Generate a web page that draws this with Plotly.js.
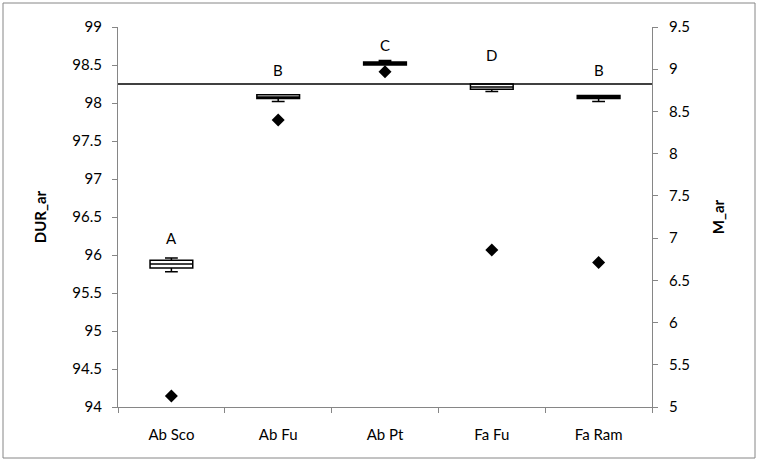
<!DOCTYPE html>
<html>
<head>
<meta charset="utf-8">
<script src="https://cdn.plot.ly/plotly-3.0.1.min.js"></script>
<style>
  html, body { margin: 0; padding: 0; background: #fff; }
  #chart { width: 758px; height: 461px; }
</style>
</head>
<body>
<div id="chart"></div>
<script>
// Groups on the category axis
const categories = ['Ab Sco', 'Ab Fu', 'Ab Pt', 'Fa Fu', 'Fa Ram'];

// DUR_ar box statistics per group (left axis)
const durLower  = [95.78, 98.02, 98.50, 98.15, 98.02];
const durQ1     = [95.83, 98.06, 98.50, 98.18, 98.06];
const durMedian = [95.88, 98.08, 98.52, 98.21, 98.08];
const durQ3     = [95.93, 98.11, 98.54, 98.25, 98.10];
const durUpper  = [95.96, 98.11, 98.56, 98.25, 98.10];

// M_ar mean per group (right axis)
const mValues = [5.13, 8.40, 8.97, 6.86, 6.71];

// Significance letters and the DUR_ar level they sit at
const groupLetters = ['A', 'B', 'C', 'D', 'B'];
const letterLevels = [96.22, 98.43, 98.76, 98.63, 98.43];

// Reference level drawn across the plot
const durReference = 98.25;

const font = 'Lato, "Open Sans", "Liberation Sans", sans-serif';

const boxTrace = {
  type: 'box',
  x: categories,
  q1: durQ1,
  median: durMedian,
  q3: durQ3,
  lowerfence: durLower,
  upperfence: durUpper,
  width: 0.4,
  whiskerwidth: 0.3,
  fillcolor: '#ffffff',
  line: { color: '#000000', width: 1.5 },
  yaxis: 'y',
  showlegend: false,
  hoverinfo: 'skip'
};

const meanTrace = {
  type: 'scatter',
  mode: 'markers',
  x: categories,
  y: mValues,
  yaxis: 'y2',
  marker: { symbol: 'diamond', size: 10, color: '#000000' },
  showlegend: false,
  hoverinfo: 'skip'
};

const letterAnnotations = categories.map((c, i) => ({
  x: c,
  y: letterLevels[i],
  xref: 'x',
  yref: 'y',
  text: groupLetters[i],
  showarrow: false,
  font: { family: font, size: 15, color: '#000000' }
}));

const axisCommon = {
  showgrid: false,
  zeroline: false,
  showline: true,
  linecolor: '#868686',
  linewidth: 1,
  ticks: 'outside',
  ticklen: 5,
  tickcolor: '#868686',
  tickfont: { family: font, size: 15, color: '#000000' }
};

const layout = {
  width: 758,
  height: 461,
  margin: { l: 118, r: 106, t: 27, b: 54 },
  paper_bgcolor: '#ffffff',
  plot_bgcolor: '#ffffff',
  xaxis: Object.assign({}, axisCommon, {
    type: 'category',
    range: [-0.5, 4.5],
    tickson: 'boundaries',
    ticklabelstandoff: 14
  }),
  yaxis: Object.assign({}, axisCommon, {
    range: [94, 99],
    dtick: 0.5,
    tick0: 94,
    ticklabelstandoff: 7,
    title: { text: 'DUR_ar', font: { family: font, size: 15, color: '#000000', weight: 'bold' }, standoff: 22 }
  }),
  yaxis2: Object.assign({}, axisCommon, {
    overlaying: 'y',
    side: 'right',
    range: [5, 9.5],
    dtick: 0.5,
    tick0: 5,
    ticklabelstandoff: 8,
    title: { text: 'M_ar', font: { family: font, size: 15, color: '#000000', weight: 'bold' }, standoff: 24 }
  }),
  shapes: [
    {
      type: 'line', xref: 'paper', yref: 'y',
      x0: 0, x1: 1, y0: durReference, y1: durReference,
      line: { color: '#000000', width: 1.5 }
    },
    {
      type: 'rect', xref: 'paper', yref: 'paper',
      x0: -115 / 534, x1: 1 + 103 / 534,
      y0: -51 / 380, y1: 1 + 24 / 380,
      line: { color: '#868686', width: 1 }
    }
  ],
  annotations: letterAnnotations,
  showlegend: false
};

Plotly.newPlot('chart', [boxTrace, meanTrace], layout, { displayModeBar: false, staticPlot: true });
</script>
</body>
</html>
